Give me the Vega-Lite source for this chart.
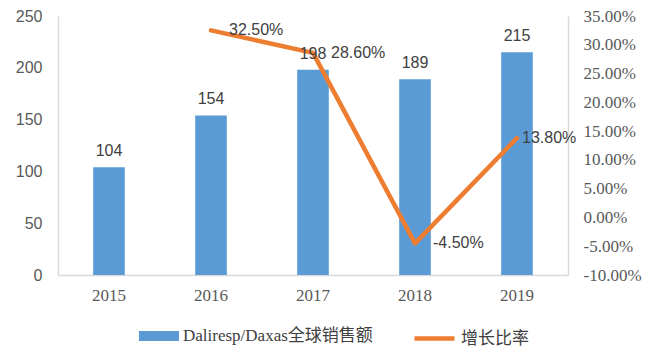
{
  "$schema": "https://vega.github.io/schema/vega-lite/v6.json",
  "width": 510,
  "height": 259,
  "autosize": {"type": "none"},
  "padding": {"left": 58, "top": 16, "right": 88, "bottom": 78},
  "background": "white",
  "config": {
    "view": {"stroke": null},
    "locale": {"number": {"decimal": ".", "thousands": ",", "grouping": [3], "currency": ["$", ""], "minus": "-"}},
    "axis": {"grid": false, "ticks": false, "title": null, "domainColor": "#D9D9D9", "domainWidth": 1.5, "labelColor": "#595959"},
    "legend": {"padding": 0, "labelLimit": 0}
  },
  "data": {
    "values": [
      {"year": "2015", "sales": 104, "growth": null},
      {"year": "2016", "sales": 154, "growth": 0.325},
      {"year": "2017", "sales": 198, "growth": 0.286},
      {"year": "2018", "sales": 189, "growth": -0.045},
      {"year": "2019", "sales": 215, "growth": 0.138}
    ]
  },
  "encoding": {
    "x": {
      "field": "year", "type": "ordinal",
      "scale": {"paddingInner": 0.69, "paddingOuter": 0.345},
      "axis": {"labelAngle": 0, "labelFont": "Liberation Serif", "labelFontSize": 17, "labelPadding": 12}
    }
  },
  "layer": [
    {
      "mark": {"type": "bar", "color": "#5B9BD5"},
      "encoding": {
        "y": {"field": "sales", "type": "quantitative", "scale": {"domain": [0, 250], "nice": false},
              "axis": {"values": [0, 50, 100, 150, 200, 250], "labelFont": "Liberation Sans", "labelFontSize": 16, "labelPadding": 16}},
        "color": {"datum": "Daliresp/Daxas全球销售额", "type": "nominal",
                  "scale": {"range": ["#5B9BD5"]},
                  "legend": {"title": null, "orient": "none", "legendX": 81, "legendY": 300,
                             "symbolType": "M-1,-0.25H1V0.25H-1Z", "symbolSize": 1600, "symbolStrokeWidth": 0,
                             "labelFont": "Liberation Serif, Noto Sans CJK SC", "labelFontSize": 17, "labelColor": "#404040", "labelOffset": 4, "labelLimit": 0}}
      }
    },
    {
      "transform": [{"filter": "datum.growth != null"}],
      "mark": {"type": "line", "strokeWidth": 4.5, "strokeCap": "round", "strokeJoin": "round"},
      "encoding": {
        "y": {"field": "growth", "type": "quantitative", "scale": {"domain": [-0.1, 0.35], "nice": false},
              "axis": {"orient": "right", "values": [-0.1, -0.05, 0, 0.05, 0.1, 0.15, 0.2, 0.25, 0.3, 0.35], "format": ".2%",
                       "labelFont": "Liberation Serif", "labelFontSize": 17, "labelPadding": 15}},
        "stroke": {"datum": "增长比率", "type": "nominal",
                   "scale": {"range": ["#ED7D31"]},
                   "legend": {"title": null, "orient": "none", "legendX": 354, "legendY": 300,
                              "symbolType": "stroke", "symbolSize": 1600, "symbolStrokeWidth": 4.5,
                              "labelFont": "Liberation Serif, Noto Sans CJK SC", "labelFontSize": 17, "labelColor": "#404040", "labelOffset": 4, "labelLimit": 0}}
      }
    },
    {
      "mark": {"type": "text", "baseline": "bottom", "dy": -8, "font": "Liberation Sans", "fontSize": 16, "color": "#404040"},
      "encoding": {
        "y": {"field": "sales", "type": "quantitative", "scale": {"domain": [0, 250], "nice": false}, "axis": null},
        "text": {"field": "sales", "type": "quantitative"}
      }
    },
    {
      "transform": [{"filter": "datum.growth != null && datum.year != '2019'"}],
      "mark": {"type": "text", "align": "left", "baseline": "middle", "dx": 18, "font": "Liberation Sans", "fontSize": 16, "color": "#404040"},
      "encoding": {
        "y": {"field": "growth", "type": "quantitative", "scale": {"domain": [-0.1, 0.35], "nice": false}, "axis": null},
        "text": {"field": "growth", "type": "quantitative", "format": ".2%"}
      }
    },
    {
      "transform": [{"filter": "datum.year == '2019'"}],
      "mark": {"type": "text", "align": "left", "baseline": "middle", "dx": 5, "font": "Liberation Sans", "fontSize": 16, "color": "#404040"},
      "encoding": {
        "y": {"field": "growth", "type": "quantitative", "scale": {"domain": [-0.1, 0.35], "nice": false}, "axis": null},
        "text": {"field": "growth", "type": "quantitative", "format": ".2%"}
      }
    }
  ],
  "resolve": {"scale": {"y": "independent", "color": "independent", "stroke": "independent"}}
}
